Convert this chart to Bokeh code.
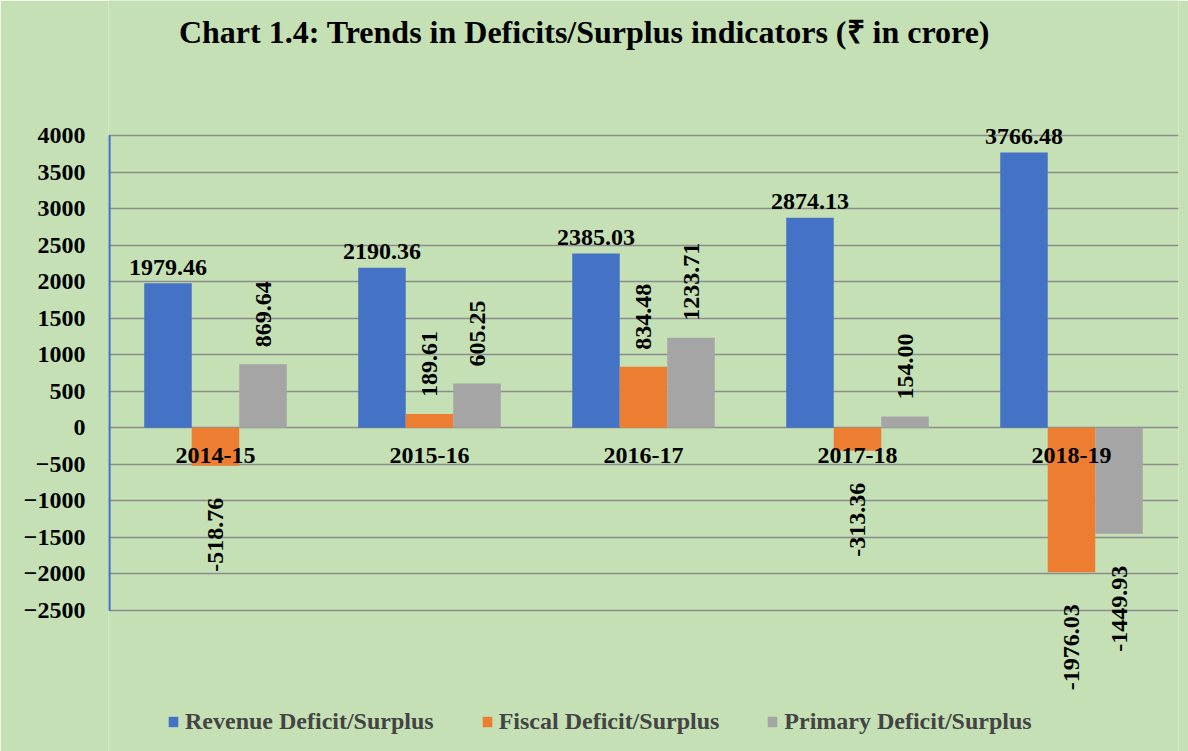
import math
from bokeh.plotting import figure
from bokeh.models import (ColumnDataSource, FactorRange, Range1d, FixedTicker,
                          Legend, LegendItem, Label)
from bokeh.transform import dodge
from bokeh.core.properties import value
from bokeh.embed import file_html
from bokeh.resources import INLINE

# ---------------- data ----------------
categories = ["2014-15", "2015-16", "2016-17", "2017-18", "2018-19"]
revenue = [1979.46, 2190.36, 2385.03, 2874.13, 3766.48]
fiscal = [-518.76, 189.61, 834.48, -313.36, -1976.03]
primary = [869.64, 605.25, 1233.71, 154.00, -1449.93]
series_names = ["Revenue Deficit/Surplus", "Fiscal Deficit/Surplus", "Primary Deficit/Surplus"]
y_ticks = [-2500, -2000, -1500, -1000, -500, 0, 500, 1000, 1500, 2000, 2500, 3000, 3500, 4000]
title_text = "Chart 1.4: Trends in Deficits/Surplus indicators (\u20b9 in crore)"

# ---------------- style ----------------
BG = "#C5E0B4"
COLORS = ["#4472C4", "#ED7D31", "#A5A5A5"]
FONT = "Liberation Serif"
FS = "24px"
BAR_W = 0.222
OFFSETS = [-BAR_W, 0.0, BAR_W]

p = figure(width=1188, height=751, x_range=FactorRange(*categories, range_padding=0),
           y_range=Range1d(-4429, 5847), output_backend="svg", toolbar_location=None,
           x_axis_location=None, min_border_left=108, min_border_right=10,
           min_border_top=0, min_border_bottom=0)
p.background_fill_color = BG
p.border_fill_color = BG
p.outline_line_color = None
p.xgrid.grid_line_color = None
p.ygrid.ticker = FixedTicker(ticks=y_ticks)
p.ygrid.grid_line_color = "#8C8C8C"
p.ygrid.grid_line_width = 1.5

ax = p.yaxis[0]
ax.ticker = FixedTicker(ticks=y_ticks)
ax.axis_line_color = None
ax.major_tick_line_color = None
ax.minor_tick_line_color = None
ax.major_label_standoff = 17
ax.major_label_text_font = FONT
ax.major_label_text_font_style = "bold"
ax.major_label_text_font_size = FS
ax.major_label_text_color = "black"

source = ColumnDataSource(dict(cat=categories, rev=revenue, fis=fiscal, pri=primary,
                               rev_t=[f"{v:.2f}" for v in revenue]))
fields = ["rev", "fis", "pri"]

renderers = []
for f, off, col in zip(fields, OFFSETS, COLORS):
    r = p.vbar(x=dodge("cat", off, range=p.x_range), top=f, bottom=0, width=BAR_W,
               source=source, fill_color=col, line_color=None)
    renderers.append(r)

# vertical axis line (blue) spanning the tick range
axsrc = ColumnDataSource(dict(x=[categories[0]], y0=[y_ticks[0]], y1=[y_ticks[-1]]))
p.segment(x0=dodge("x", -0.496, range=p.x_range), x1=dodge("x", -0.496, range=p.x_range),
          y0="y0", y1="y1", source=axsrc, line_color="#4472C4", line_width=2.5)

# category labels just below zero line
p.text(x="cat", y=0, text="cat", source=ColumnDataSource(dict(cat=categories)),
       text_font=value(FONT), text_font_style="bold", text_font_size=FS,
       text_align="center", text_baseline="middle", y_offset=28, text_color="black")

# revenue labels (horizontal)
p.text(x=dodge("cat", OFFSETS[0], range=p.x_range), y="rev", text="rev_t", source=source,
       text_font=value(FONT), text_font_style="bold", text_font_size=FS,
       text_align="center", text_baseline="alphabetic", y_offset=-16, text_color="black")

# fiscal / primary labels (rotated)
for vals, off in ((fiscal, OFFSETS[1]), (primary, OFFSETS[2])):
    pos = [(c, v) for c, v in zip(categories, vals) if v >= 0]
    neg = [(c, v) for c, v in zip(categories, vals) if v < 0]
    for group, align, yo in ((pos, "left", -17), (neg, "right", 32)):
        if not group:
            continue
        src = ColumnDataSource(dict(cat=[g[0] for g in group], v=[g[1] for g in group],
                                    t=[f"{g[1]:.2f}" for g in group]))
        p.text(x=dodge("cat", off, range=p.x_range), y="v", text="t", source=src,
               angle=math.pi / 2, text_font=value(FONT), text_font_style="bold",
               text_font_size=FS, text_align=align, text_baseline="middle",
               y_offset=yo, text_color="black")

# title
p.add_layout(Label(x=476, y=720, x_units="screen", y_units="screen", text=title_text,
                   text_font=FONT, text_font_style="bold", text_font_size="32px",
                   text_align="center", text_baseline="middle", text_color="black"))

legend = Legend(items=[LegendItem(label=n, renderers=[r]) for n, r in zip(series_names, renderers)],
                orientation="horizontal", location=(59, 16), background_fill_alpha=0,
                border_line_color=None, label_text_font=FONT, label_text_font_style="bold",
                label_text_font_size=FS, glyph_width=12, glyph_height=13, spacing=47,
                padding=0, margin=0, label_standoff=6)
p.add_layout(legend, "center")

open("out.html", "w").write(file_html(p, INLINE))
